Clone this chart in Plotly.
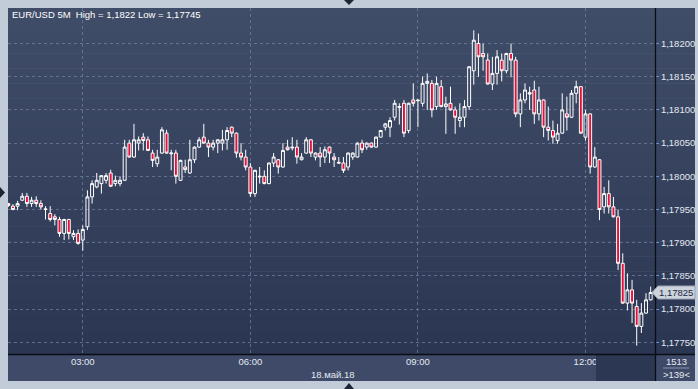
import plotly.graph_objects as go
import pandas as pd

# ---------------- data ----------------
start_time = "2018-05-18 01:40"
n_bars = 139
open_ = [1.17959, 1.17955, 1.17955, 1.17964, 1.17970, 1.17959, 1.17964, 1.17959, 1.17951, 1.17944,
         1.17939, 1.17935, 1.17914, 1.17935, 1.17909, 1.17914, 1.17904, 1.17924, 1.17969, 1.17984,
         1.17989, 1.17994, 1.18005, 1.17989, 1.17989, 1.17994, 1.18050, 1.18029, 1.18050, 1.18059,
         1.18055, 1.18035, 1.18019, 1.18035, 1.18065, 1.18034, 1.18035, 1.17994, 1.18014, 1.18005,
         1.18025, 1.18044, 1.18059, 1.18050, 1.18044, 1.18050, 1.18050, 1.18055, 1.18074, 1.18065,
         1.18035, 1.18029, 1.18014, 1.17974, 1.17999, 1.18000, 1.17989, 1.18020, 1.18025, 1.18014,
         1.18044, 1.18044, 1.18044, 1.18025, 1.18035, 1.18055, 1.18029, 1.18035, 1.18029, 1.18044,
         1.18029, 1.18021, 1.18020, 1.18014, 1.18029, 1.18029, 1.18050, 1.18044, 1.18050, 1.18044,
         1.18059, 1.18074, 1.18074, 1.18089, 1.18105, 1.18110, 1.18069, 1.18115, 1.18115, 1.18110,
         1.18140, 1.18140, 1.18105, 1.18135, 1.18105, 1.18110, 1.18100, 1.18084, 1.18089, 1.18105,
         1.18159, 1.18200, 1.18185, 1.18175, 1.18139, 1.18155, 1.18175, 1.18159, 1.18185, 1.18175,
         1.18094, 1.18115, 1.18126, 1.18130, 1.18094, 1.18115, 1.18074, 1.18069, 1.18054, 1.18065,
         1.18094, 1.18089, 1.18125, 1.18135, 1.18059, 1.18094, 1.18014, 1.18025, 1.17954, 1.17974,
         1.17954, 1.17939, 1.17869, 1.17809, 1.17829, 1.17804, 1.17774, 1.17794, 1.17814]
high = [1.17960, 1.17958, 1.17963, 1.17975, 1.17975, 1.17969, 1.17970, 1.17964, 1.17955, 1.17955,
        1.17943, 1.17939, 1.17936, 1.17936, 1.17919, 1.17920, 1.17926, 1.17979, 1.17994, 1.18005,
        1.18002, 1.18005, 1.18010, 1.18001, 1.18000, 1.18055, 1.18055, 1.18079, 1.18060, 1.18065,
        1.18060, 1.18040, 1.18040, 1.18074, 1.18070, 1.18040, 1.18040, 1.18025, 1.18025, 1.18055,
        1.18045, 1.18059, 1.18079, 1.18055, 1.18055, 1.18056, 1.18070, 1.18074, 1.18075, 1.18066,
        1.18050, 1.18040, 1.18020, 1.18010, 1.18014, 1.18009, 1.18021, 1.18035, 1.18026, 1.18050,
        1.18055, 1.18059, 1.18055, 1.18035, 1.18059, 1.18056, 1.18036, 1.18044, 1.18045, 1.18045,
        1.18035, 1.18029, 1.18029, 1.18036, 1.18036, 1.18051, 1.18055, 1.18051, 1.18051, 1.18060,
        1.18070, 1.18080, 1.18089, 1.18115, 1.18110, 1.18115, 1.18111, 1.18140, 1.18116, 1.18150,
        1.18155, 1.18145, 1.18150, 1.18145, 1.18120, 1.18135, 1.18105, 1.18110, 1.18115, 1.18166,
        1.18220, 1.18215, 1.18200, 1.18185, 1.18180, 1.18190, 1.18185, 1.18186, 1.18200, 1.18180,
        1.18125, 1.18140, 1.18135, 1.18144, 1.18135, 1.18116, 1.18105, 1.18084, 1.18079, 1.18125,
        1.18120, 1.18130, 1.18144, 1.18136, 1.18100, 1.18095, 1.18044, 1.18026, 1.17984, 1.17994,
        1.17969, 1.17950, 1.17884, 1.17854, 1.17844, 1.17814, 1.17809, 1.17824, 1.17834]
low = [1.17954, 1.17949, 1.17949, 1.17963, 1.17954, 1.17954, 1.17954, 1.17950, 1.17935, 1.17932,
       1.17926, 1.17909, 1.17904, 1.17905, 1.17904, 1.17897, 1.17888, 1.17919, 1.17959, 1.17982,
       1.17974, 1.17989, 1.17984, 1.17985, 1.17985, 1.17993, 1.18028, 1.18028, 1.18039, 1.18039,
       1.18038, 1.18014, 1.18014, 1.18034, 1.18034, 1.18009, 1.17989, 1.17993, 1.18005, 1.18004,
       1.18020, 1.18043, 1.18049, 1.18029, 1.18039, 1.18035, 1.18039, 1.18040, 1.18059, 1.18028,
       1.18024, 1.18009, 1.17969, 1.17969, 1.17989, 1.17988, 1.17988, 1.18014, 1.18004, 1.18013,
       1.18039, 1.18039, 1.18019, 1.18024, 1.18034, 1.18029, 1.18024, 1.18014, 1.18020, 1.18020,
       1.18014, 1.18019, 1.18005, 1.18009, 1.18025, 1.18028, 1.18035, 1.18040, 1.18043, 1.18043,
       1.18059, 1.18069, 1.18059, 1.18084, 1.18078, 1.18059, 1.18065, 1.18105, 1.18074, 1.18105,
       1.18100, 1.18089, 1.18100, 1.18104, 1.18064, 1.18099, 1.18064, 1.18074, 1.18074, 1.18100,
       1.18138, 1.18150, 1.18159, 1.18138, 1.18130, 1.18138, 1.18143, 1.18155, 1.18149, 1.18089,
       1.18074, 1.18110, 1.18100, 1.18079, 1.18084, 1.18059, 1.18054, 1.18049, 1.18049, 1.18064,
       1.18069, 1.18088, 1.18110, 1.18064, 1.18054, 1.18004, 1.18013, 1.17934, 1.17944, 1.17944,
       1.17938, 1.17859, 1.17808, 1.17798, 1.17779, 1.17745, 1.17764, 1.17793, 1.17813]
close = [1.17956, 1.17950, 1.17959, 1.17970, 1.17959, 1.17964, 1.17959, 1.17954, 1.17950, 1.17935,
         1.17935, 1.17914, 1.17935, 1.17914, 1.17914, 1.17899, 1.17920, 1.17969, 1.17989, 1.17994,
         1.18001, 1.18001, 1.17985, 1.17994, 1.17994, 1.18044, 1.18029, 1.18055, 1.18055, 1.18054,
         1.18039, 1.18024, 1.18029, 1.18070, 1.18035, 1.18035, 1.18000, 1.18024, 1.18010, 1.18025,
         1.18044, 1.18055, 1.18050, 1.18044, 1.18050, 1.18055, 1.18055, 1.18069, 1.18065, 1.18035,
         1.18029, 1.18014, 1.17974, 1.18009, 1.18000, 1.17989, 1.18020, 1.18029, 1.18014, 1.18039,
         1.18040, 1.18043, 1.18029, 1.18029, 1.18055, 1.18035, 1.18035, 1.18029, 1.18040, 1.18035,
         1.18025, 1.18020, 1.18009, 1.18035, 1.18035, 1.18050, 1.18040, 1.18050, 1.18044, 1.18059,
         1.18069, 1.18079, 1.18084, 1.18110, 1.18104, 1.18065, 1.18110, 1.18110, 1.18114, 1.18140,
         1.18143, 1.18100, 1.18140, 1.18105, 1.18109, 1.18100, 1.18089, 1.18089, 1.18105, 1.18165,
         1.18205, 1.18180, 1.18180, 1.18139, 1.18155, 1.18180, 1.18159, 1.18185, 1.18175, 1.18094,
         1.18115, 1.18130, 1.18124, 1.18094, 1.18115, 1.18074, 1.18069, 1.18059, 1.18065, 1.18100,
         1.18089, 1.18125, 1.18135, 1.18065, 1.18094, 1.18014, 1.18029, 1.17950, 1.17974, 1.17954,
         1.17939, 1.17869, 1.17809, 1.17829, 1.17809, 1.17774, 1.17794, 1.17814, 1.17825]

y_ticks = [1.1775, 1.1780, 1.1785, 1.1790, 1.1795, 1.1800, 1.1805, 1.1810, 1.1815, 1.1820]
y_tick_labels = ["1,17750", "1,17800", "1,17850", "1,17900", "1,17950",
                 "1,18000", "1,18050", "1,18100", "1,18150", "1,18200"]
x_ticks = ["2018-05-18 03:00", "2018-05-18 06:00", "2018-05-18 09:00", "2018-05-18 12:00"]
x_tick_labels = ["03:00", "06:00", "09:00", "12:00"]
title_text = "EUR/USD 5M  High = 1,1822 Low = 1,17745"
date_text = "18.май.18"
last_price = 1.17825
last_price_text = "1,17825"
bars_text = "1513"
visible_text = ">139<"

times = pd.date_range(start_time, periods=n_bars, freq="5min")

# ---------------- layout helpers (pixel -> paper) ----------------
W, H = 698, 389
L, R, T, B = 8, 655, 8, 354


def px(X):
    return (X - L) / (R - L)


def py(Y):
    return (B - Y) / (B - T)


FONT = "Liberation Sans, Arial, sans-serif"
TXT = "#e4e9f1"

fig = go.Figure()
fig.add_trace(go.Candlestick(
    x=times, open=open_, high=high, low=low, close=close,
    increasing=dict(line=dict(color="#ffffff", width=1), fillcolor="rgba(0,0,0,0)"),
    decreasing=dict(line=dict(color="#ffffff", width=1), fillcolor="#e5103a"),
    whiskerwidth=0, hoverinfo="skip", showlegend=False,
))

shapes = []
# gradient background (plot + right scale panel)
top_c = (64, 77, 104)
bot_c = (43, 54, 83)
nb = 46
for k in range(nb):
    f = (k + 0.5) / nb
    c = tuple(int(round(top_c[j] + (bot_c[j] - top_c[j]) * f)) for j in range(3))
    y0 = T + (B - T) * k / nb
    y1 = T + (B - T) * (k + 1) / nb + 0.6
    shapes.append(dict(type="rect", xref="paper", yref="paper", layer="below",
                       x0=px(L), x1=px(695), y0=py(min(y1, B)), y1=py(y0),
                       fillcolor="rgb(%d,%d,%d)" % c, line=dict(width=0)))
# bottom time panel
shapes.append(dict(type="rect", xref="paper", yref="paper", layer="below",
                   x0=px(L), x1=px(695), y0=py(381), y1=py(B),
                   fillcolor="#3e4a67", line=dict(width=0)))
# dark box at right of time panel (drawn above labels)
shapes.append(dict(type="rect", xref="paper", yref="paper", layer="above",
                   x0=px(596), x1=px(655), y0=py(381), y1=py(B),
                   fillcolor="#2c3753", line=dict(width=0)))
# separators
shapes.append(dict(type="line", xref="paper", yref="paper", layer="above",
                   x0=px(655.5), x1=px(655.5), y0=py(381), y1=py(T),
                   line=dict(color="#0a0d14", width=1.3)))
shapes.append(dict(type="line", xref="paper", yref="paper", layer="above",
                   x0=px(L), x1=px(695), y0=py(354.5), y1=py(354.5),
                   line=dict(color="#0a0d14", width=1.3)))
shapes.append(dict(type="line", xref="paper", yref="paper", layer="above",
                   x0=px(663), x1=px(689), y0=py(368), y1=py(368),
                   line=dict(color="#8894aa", width=1)))
# last price marker
yl = 292.5
shapes.append(dict(type="path", xref="paper", yref="paper", layer="above",
                   path="M %f %f L %f %f L %f %f L %f %f L %f %f Z" % (
                       px(652), py(yl), px(658), py(yl - 6.5), px(695), py(yl - 6.5),
                       px(695), py(yl + 6.5), px(658), py(yl + 6.5)),
                   fillcolor="#cdd3dc", line=dict(color="#9aa3b2", width=1)))
# frame triangles
shapes.append(dict(type="path", xref="paper", yref="paper", layer="above",
                   path="M %f %f L %f %f L %f %f Z" % (px(344), py(0), px(354), py(0), px(349), py(5)),
                   fillcolor="#1c2436", line=dict(width=0)))
shapes.append(dict(type="path", xref="paper", yref="paper", layer="above",
                   path="M %f %f L %f %f L %f %f Z" % (px(344), py(389), px(354), py(389), px(349), py(383)),
                   fillcolor="#1c2436", line=dict(width=0)))
shapes.append(dict(type="path", xref="paper", yref="paper", layer="above",
                   path="M %f %f L %f %f L %f %f Z" % (px(0), py(187), px(0), py(198), px(5), py(192.5)),
                   fillcolor="#1c2436", line=dict(width=0)))

annotations = [
    dict(text=title_text, xref="paper", yref="paper", x=px(10), y=py(15),
         xanchor="left", yanchor="middle", showarrow=False,
         font=dict(family=FONT, size=9.5, color="#ffffff")),
    dict(text=date_text, xref="paper", yref="paper", x=px(333), y=py(374),
         xanchor="center", yanchor="middle", showarrow=False,
         font=dict(family=FONT, size=9.5, color=TXT)),
    dict(text=last_price_text, xref="paper", yref="y", x=px(676.5), y=last_price,
         xanchor="center", yanchor="middle", showarrow=False,
         font=dict(family=FONT, size=9.5, color="#1b2540")),
    dict(text=bars_text, xref="paper", yref="paper", x=px(676), y=py(361),
         xanchor="center", yanchor="middle", showarrow=False,
         font=dict(family=FONT, size=9.5, color=TXT)),
    dict(text=visible_text, xref="paper", yref="paper", x=px(676), y=py(374),
         xanchor="center", yanchor="middle", showarrow=False,
         font=dict(family=FONT, size=9.5, color=TXT)),
]

grid_c = "rgba(112,127,158,0.75)"
fig.update_layout(
    width=W, height=H,
    margin=dict(l=L, r=W - R, t=T, b=H - B, pad=0, autoexpand=False),
    paper_bgcolor="#c2ccd8",
    plot_bgcolor="rgba(0,0,0,0)",
    showlegend=False,
    boxgap=0.1,
    shapes=shapes,
    annotations=annotations,
    xaxis=dict(
        type="date",
        range=["2018-05-18 01:39:41", "2018-05-18 13:14:39"],
        rangeslider=dict(visible=False),
        tickmode="array", tickvals=x_ticks, ticktext=x_tick_labels,
        showgrid=True, gridcolor=grid_c, griddash="3px,3px", gridwidth=1,
        ticks="", showline=False, zeroline=False,
        tickfont=dict(family=FONT, size=9.5, color=TXT),
        automargin=False, fixedrange=True,
    ),
    yaxis=dict(
        side="right",
        range=[1.177324, 1.182535],
        tickmode="array", tickvals=y_ticks, ticktext=y_tick_labels,
        showgrid=True, gridcolor=grid_c, griddash="3px,3px", gridwidth=1,
        ticks="outside", ticklen=3, tickcolor="#6f8fc8",
        showline=False, zeroline=False,
        tickfont=dict(family=FONT, size=9.5, color=TXT),
        automargin=False, fixedrange=True,
    ),
)

fig.write_html(
    "out.html",
    config={"displayModeBar": False},
    post_script="document.body.style.margin='0';document.body.style.overflow='hidden';",
)
